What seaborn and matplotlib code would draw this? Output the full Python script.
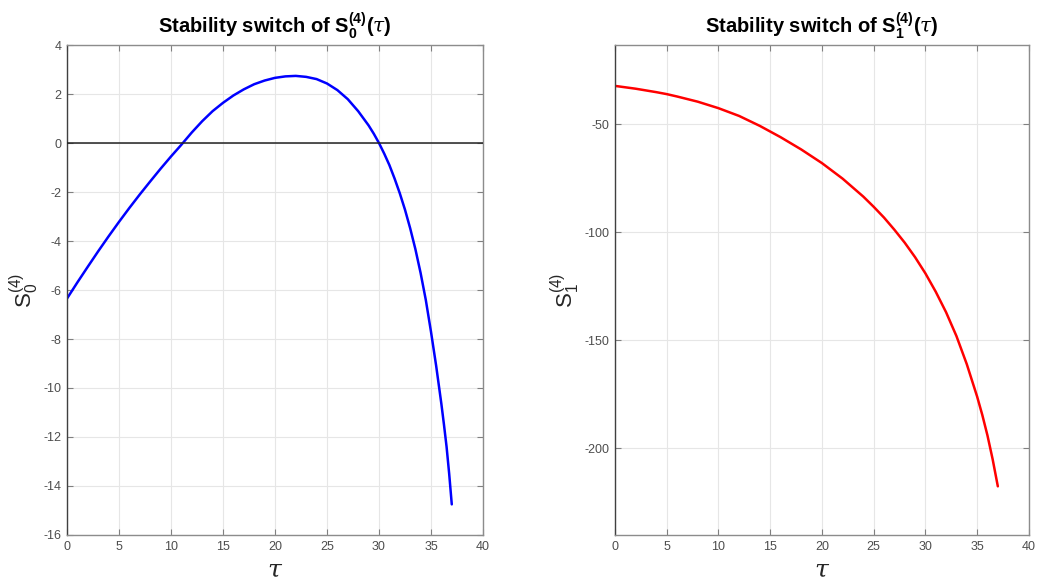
import matplotlib
matplotlib.use("Agg")
import matplotlib.pyplot as plt
import seaborn as sns
import numpy as np
import pandas as pd

# S0^(4)(tau)
tau0 = [0, 1, 2, 3, 4, 5, 6, 7, 8, 9, 10, 11, 12, 13, 14, 15, 16, 17, 18, 19,
        20, 21, 22, 23, 24, 25, 26, 27, 28, 29, 29.5, 30, 30.5, 31, 31.5, 32,
        32.5, 33, 33.5, 34, 34.5, 35, 35.5, 36, 36.25, 36.5, 36.75, 37]
s0 = [-6.35, -5.69, -5.05, -4.42, -3.81, -3.22, -2.65, -2.10, -1.57, -1.05,
      -0.55, -0.07, 0.43, 0.89, 1.30, 1.64, 1.94, 2.19, 2.40, 2.55,
      2.66, 2.72, 2.74, 2.70, 2.61, 2.43, 2.16, 1.79, 1.30, 0.72, 0.38,
      0.0, -0.43, -0.9, -1.45, -2.05, -2.72, -3.48, -4.33, -5.3, -6.4, -7.7,
      -9.1, -10.65, -11.5, -12.4, -13.5, -14.75]

# S1^(4)(tau)
tau1 = [0, 2, 4, 5, 6, 8, 10, 12, 14, 15, 16, 18, 20, 22, 24, 25, 26, 27, 28,
        29, 30, 31, 32, 33, 34, 35, 35.5, 36, 36.5, 37]
s1 = [-32.3, -33.6, -35.2, -36.1, -37.2, -39.6, -42.6, -46.2, -50.8, -53.4,
      -56.0, -61.7, -68.0, -75.2, -83.5, -88.2, -93.2, -98.8, -104.8,
      -111.5, -119.0, -127.5, -137.0, -148.0, -161.0, -176.0, -184.5,
      -194.0, -205.0, -217.5]

left_yticks = list(range(-16, 5, 2))
right_yticks = [-200, -150, -100, -50]
xticks = list(range(0, 41, 5))

sns.set_theme(style="whitegrid")
plt.rcParams['font.family'] = ['Liberation Sans', 'DejaVu Sans']
plt.rcParams['axes.unicode_minus'] = False
plt.rcParams['mathtext.fontset'] = 'custom'
plt.rcParams['mathtext.rm'] = 'Liberation Sans'
plt.rcParams['mathtext.it'] = 'DejaVu Serif:italic'
plt.rcParams['mathtext.bf'] = 'Liberation Sans:bold'

fig = plt.figure(figsize=(10.4, 5.81), dpi=100)
ax1 = fig.add_axes([0.0644, 0.0792, 0.4, 0.8433])
ax2 = fig.add_axes([0.5913, 0.0792, 0.398, 0.8433])

df0 = pd.DataFrame({"tau": tau0, "s": s0})
df1 = pd.DataFrame({"tau": tau1, "s": s1})

sns.lineplot(data=df0, x="tau", y="s", ax=ax1, color="#0000ff", lw=1.8,
             sort=False, estimator=None)
ax1.axhline(0, color="#222222", lw=1.1, zorder=3)
sns.lineplot(data=df1, x="tau", y="s", ax=ax2, color="#ff0000", lw=1.8,
             sort=False, estimator=None)


def style(ax, yticks, ylim, sub):
    ax.set_facecolor("white")
    ax.set_xlim(0, 40)
    ax.set_ylim(*ylim)
    ax.set_xticks(xticks)
    ax.set_yticks(yticks)
    ax.grid(True, color="#e6e6e6", lw=0.8)
    ax.tick_params(axis="both", direction="in", length=4, width=0.8,
                   colors="#808080", labelcolor="#4d4d4d", labelsize=9,
                   top=True, right=True, bottom=True, left=True,
                   labeltop=False, labelright=False, pad=4)
    for side in ["top", "right", "bottom"]:
        ax.spines[side].set_color("#8c8c8c")
        ax.spines[side].set_linewidth(1.0)
    ax.spines["left"].set_color("#404040")
    ax.spines["left"].set_linewidth(1.0)
    ax.set_xlabel(r"$\tau$", fontsize=18, labelpad=4, color="#262626")
    ax.set_ylabel(r"$\mathrm{S}_{%s}^{(4)}$" % sub, fontsize=16, labelpad=2,
                  color="#262626")
    ax.set_title(r"Stability switch of $\mathbf{S_{%s}^{(4)}(}\tau\mathbf{)}$" % sub,
                 fontsize=14.5, fontweight="bold", pad=9, color="black")


style(ax1, left_yticks, (-16, 4), "0")
style(ax2, right_yticks, (-240, -13.4), "1")

plt.savefig("out.png", dpi=100)
